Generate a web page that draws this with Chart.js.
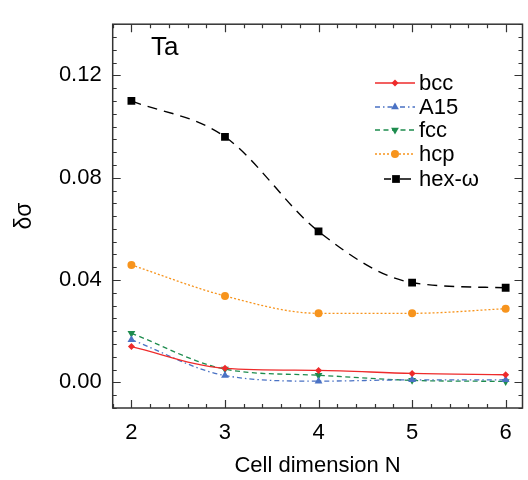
<!DOCTYPE html>
<html>
<head>
<meta charset="utf-8">
<script src="https://cdn.jsdelivr.net/npm/chart.js@4.4.1/dist/chart.umd.min.js"></script>
<style>
html,body{margin:0;padding:0;background:#fff;}
#wrap{width:528px;height:480px;position:relative;}
</style>
</head>
<body>
<div id="wrap"><canvas id="c" width="528" height="480"></canvas></div>
<script>
// ---- data ----
const categories = [2, 3, 4, 5, 6];
const bcc  = [0.0140, 0.0055, 0.0047, 0.0035, 0.0030];
const a15  = [0.0167, 0.0027, 0.0005, 0.0010, 0.0010];
const fcc  = [0.0192, 0.0052, 0.0028, 0.0008, 0.0004];
const hcp  = [0.0459, 0.0338, 0.0270, 0.0270, 0.0288];
const hexw = [0.1100, 0.0960, 0.0590, 0.0390, 0.0370];
const seriesNames = ['bcc', 'A15', 'fcc', 'hcp', 'hex-ω'];
const xTickLabels = [2, 3, 4, 5, 6];
const yTickLabels = [0.00, 0.04, 0.08, 0.12];

const FONT = 'Liberation Sans, Arial, Helvetica, sans-serif';
const toXY = arr => categories.map((c, i) => ({x: c, y: arr[i]}));

const styles = [
  {color:'#ee2b2b', dash:[], ps:'rectRot', r:3.5, rot:0},
  {color:'#4a72c4', dash:[5,3,1.5,3], ps:'triangle', r:4.5, rot:0},
  {color:'#1e8c4e', dash:[5,3.5], ps:'triangle', r:4.5, rot:180},
  {color:'#f7941d', dash:[2,2], ps:'circle', r:4, rot:0},
  {color:'#000000', dash:[10,7], ps:'rect', r:5.5, rot:0}
];
const seriesData = [bcc, a15, fcc, hcp, hexw];

const datasets = seriesData.map((d, i) => ({
  label: seriesNames[i],
  data: toXY(d),
  borderColor: styles[i].color,
  backgroundColor: styles[i].color,
  borderWidth: i === 4 ? 1.4 : 1.3,
  borderDash: styles[i].dash,
  pointStyle: styles[i].ps,
  pointRadius: styles[i].r,
  pointRotation: styles[i].rot,
  pointBorderWidth: 0,
  pointBackgroundColor: styles[i].color,
  pointBorderColor: styles[i].color,
  cubicInterpolationMode: 'monotone',
  fill: false
}));

const framePlugin = {
  id: 'frame',
  afterDraw(chart) {
    const ctx = chart.ctx;
    const a = chart.chartArea;
    const xs = chart.scales.x, ys = chart.scales.y;
    ctx.save();
    ctx.strokeStyle = '#333';
    ctx.lineWidth = 1.5;
    ctx.strokeRect(a.left, a.top, a.right - a.left, a.bottom - a.top);
    ctx.lineWidth = 1.2;
    ctx.beginPath();
    for (let k = 9; k <= 31; k++) {
      const v = k * 0.2;
      if (v < xs.min - 1e-9 || v > xs.max + 1e-9) continue;
      const px = Math.round(xs.getPixelForValue(v)) + 0.5;
      const major = Math.abs(v - Math.round(v)) < 1e-6;
      const L = major ? 8 : 4;
      ctx.moveTo(px, a.bottom); ctx.lineTo(px, a.bottom - L);
      ctx.moveTo(px, a.top); ctx.lineTo(px, a.top + L);
    }
    for (let k = -2; k <= 28; k++) {
      const v = k * 0.005;
      if (v < ys.min - 1e-9 || v > ys.max + 1e-9) continue;
      const py = Math.round(ys.getPixelForValue(v)) + 0.5;
      const major = (k % 8 === 0);
      const L = major ? 8 : 4;
      ctx.moveTo(a.left, py); ctx.lineTo(a.left + L, py);
      ctx.moveTo(a.right, py); ctx.lineTo(a.right - L, py);
    }
    ctx.stroke();

    ctx.fillStyle = '#000';
    ctx.font = '26px ' + FONT;
    ctx.textBaseline = 'middle';
    ctx.textAlign = 'left';
    ctx.fillText('Ta', 151, 48);

    // legend
    const rows = [83, 107, 130, 154, 179];
    const x0 = 375, x1 = 415;
    ctx.font = '22px ' + FONT;
    chart.data.datasets.forEach((ds, i) => {
      const y = rows[i];
      ctx.save();
      ctx.strokeStyle = ds.borderColor;
      ctx.lineWidth = ds.borderWidth;
      ctx.beginPath();
      if (i === 4) {
        ctx.moveTo(384, y); ctx.lineTo(391, y);
        ctx.moveTo(400, y); ctx.lineTo(411, y);
      } else {
        ctx.setLineDash(ds.borderDash);
        ctx.moveTo(x0, y); ctx.lineTo(x1, y);
      }
      ctx.stroke();
      ctx.restore();
      ctx.fillStyle = ds.pointBackgroundColor;
      ctx.strokeStyle = ds.pointBackgroundColor;
      Chart.helpers.drawPoint(ctx, {
        pointStyle: ds.pointStyle, radius: ds.pointRadius, rotation: ds.pointRotation,
        borderWidth: 0
      }, i === 4 ? 396 : (x0 + x1) / 2, y);
      ctx.fillStyle = '#000';
      ctx.fillText(ds.label, 419, y + 1);
    });
    ctx.restore();
  }
};

new Chart(document.getElementById('c'), {
  type: 'line',
  data: { datasets },
  options: {
    responsive: false,
    animation: false,
    devicePixelRatio: 1,
    layout: { padding: { top: 5, right: 4, left: 0, bottom: 0 } },
    plugins: { legend: { display: false }, tooltip: { enabled: false } },
    scales: {
      x: {
        type: 'linear', min: 1.8, max: 6.18,
        border: { display: false },
        grid: { display: false, drawTicks: false },
        afterBuildTicks: s => { s.ticks = xTickLabels.map(v => ({value: v})); },
        afterFit: s => { s.height = 72; },
        ticks: { color: '#000', font: { family: FONT, size: 22 }, padding: 12,
                 callback: v => String(v), maxRotation: 0 },
        title: { display: true, text: 'Cell dimension N', color: '#000',
                 font: { family: FONT, size: 22 }, padding: { top: 4, bottom: 1 } }
      },
      y: {
        type: 'linear', min: -0.01, max: 0.14,
        border: { display: false },
        grid: { display: false, drawTicks: false },
        afterBuildTicks: s => { s.ticks = yTickLabels.map(v => ({value: v})); },
        afterFit: s => { s.width = 112.7; },
        ticks: { color: '#000', font: { family: FONT, size: 22 }, padding: 11,
                 callback: v => Number(v).toFixed(2) },
        title: { display: true, text: 'δσ', color: '#000',
                 font: { family: FONT, size: 23 }, padding: { top: 11, bottom: 0 } }
      }
    }
  },
  plugins: [framePlugin]
});
</script>
</body>
</html>
